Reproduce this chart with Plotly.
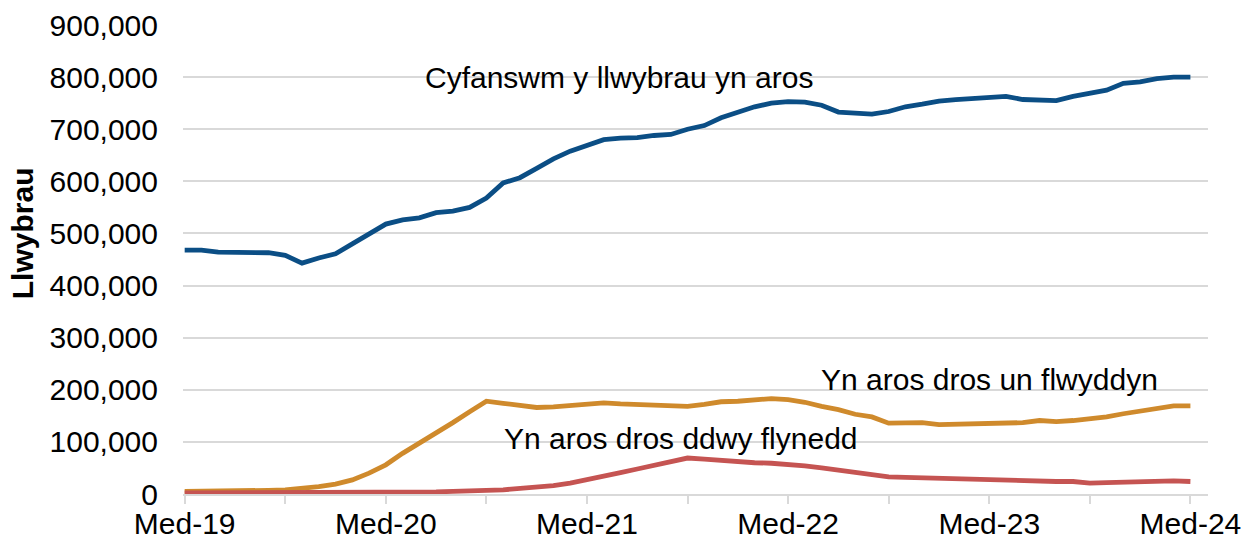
import plotly.graph_objects as go

months = list(range(61))  # Sep-2019 .. Sep-2024
tick_vals = [0, 12, 24, 36, 48, 60]
tick_text = ["Med-19", "Med-20", "Med-21", "Med-22", "Med-23", "Med-24"]

total_waiting = [
    468000, 468000, 464000, 464000, 463000, 463000, 458000, 443000, 453000, 461000,
    480000, 500000, 518000, 526000, 530000, 540000, 543000, 550000, 568000, 597000,
    607000, 625000, 643000, 658000, 670000, 680000, 683000, 684000, 688000, 690000,
    700000, 707000, 722000, 732000, 743000, 750000, 753000, 752000, 746000, 733000,
    732000, 729000, 734000, 743000, 748000, 754000, 757000, 759000, 760000, 763000,
    757000, 755000, 755000, 763000, 769000, 775000, 788000, 791000, 797000, 800000,
    800000,
]

over_one_year = [
    5000, 5000, 6000, 7000, 7000, 7000, 8000, 10000, 14000, 19000,
    27000, 40000, 56000, 78000, 97000, 118000, 137000, 158000, 178000, 174000,
    170000, 166000, 167000, 170000, 172000, 175000, 173000, 172000, 170000, 168000,
    168000, 172000, 177000, 178000, 181000, 183000, 181000, 176000, 168000, 162000,
    153000, 148000, 136000, 137000, 137000, 133000, 134000, 135000, 134000, 135000,
    137000, 141000, 139000, 141000, 144000, 148000, 154000, 159000, 163000, 169000,
    169000,
]

over_two_years = [
    2000, 2000, 2000, 2000, 2000, 2000, 2000, 2000, 2000, 2000,
    2000, 2000, 2000, 3000, 3000, 4000, 5000, 5000, 7000, 8000,
    10000, 12000, 16000, 21000, 27000, 34000, 41000, 48000, 55000, 62000,
    69000, 67000, 64000, 61000, 60000, 59000, 57000, 54000, 50000, 46000,
    42000, 38000, 33000, 32000, 31000, 29000, 28000, 27000, 27000, 26000,
    25000, 25000, 24000, 24000, 21000, 22000, 23000, 24000, 24000, 25000,
    24000,
]

series = [
    ("Cyfanswm y llwybrau yn aros", total_waiting, "#0B4E85"),
    ("Yn aros dros un flwyddyn", over_one_year, "#CF8A2C"),
    ("Yn aros dros ddwy flynedd", over_two_years, "#C55452"),
]

FONT = "Liberation Sans, Arial, sans-serif"
FS = 30

fig = go.Figure()
for name, vals, col in series:
    fig.add_trace(go.Scatter(
        x=months, y=vals, mode="lines", name=name,
        line=dict(color=col, width=4.8),
    ))

labels = [
    ("Cyfanswm y llwybrau yn aros", 25.9, 800000),
    ("Yn aros dros un flwyddyn", 48.0, 219000),
    ("Yn aros dros ddwy flynedd", 29.6, 107000),
]
for text, xv, yv in labels:
    fig.add_annotation(x=xv, y=yv, text=text, showarrow=False,
                       xanchor="center", yanchor="middle",
                       font=dict(family=FONT, size=FS, color="#000000"))

# y-axis title
fig.add_annotation(x=0, xref="paper", y=0.556, yref="paper", xshift=-161,
                   text="<b>Llwybrau</b>", textangle=-90, showarrow=False,
                   xanchor="center", yanchor="middle",
                   font=dict(family=FONT, size=FS, color="#000000"))

fig.update_layout(
    width=1243, height=542,
    margin=dict(l=183, r=35, t=25, b=48),
    paper_bgcolor="white", plot_bgcolor="white",
    showlegend=False,
    font=dict(family=FONT, size=FS, color="#000000"),
)
fig.update_xaxes(
    range=[-0.1, 61.05], automargin=False,
    tickmode="array", tickvals=tick_vals, ticktext=tick_text,
    ticks="outside", ticklen=8, tickcolor="#D9D9D9", tickwidth=1.5,
    minor=dict(dtick=6, tick0=0, ticks="outside", ticklen=8, tickcolor="#D9D9D9", tickwidth=1.5, showgrid=False),
    showgrid=False, showline=True, linecolor="#D9D9D9", linewidth=1.5,
    zeroline=False,
    ticklabelstandoff=-6,
    tickfont=dict(family=FONT, size=FS, color="#000000"),
)
fig.update_yaxes(
    range=[0, 900000], dtick=100000, tickformat=",d", automargin=False,
    showgrid=True, gridcolor="#D9D9D9", gridwidth=1.5,
    zeroline=False, showline=False, ticks="",
    ticklabelstandoff=24,
    tickfont=dict(family=FONT, size=FS, color="#000000"),
)

fig.write_html("out.html",
               config={"displayModeBar": False},
               post_script="document.body.style.margin='0';document.body.style.overflow='hidden';")
